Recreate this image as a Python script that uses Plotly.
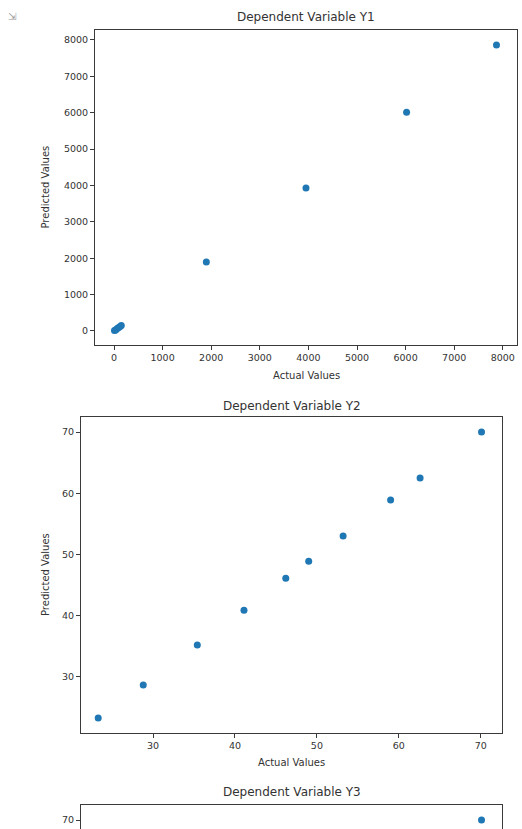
import plotly.graph_objects as go

# ---- data ----
y1_actual = [10, 35, 60, 90, 120, 150, 1900, 3950, 6020, 7870]
y1_pred = [12, 30, 62, 88, 118, 148, 1895, 3930, 6010, 7855]

y2_actual = [23.3, 28.8, 35.4, 41.1, 46.2, 49.0, 53.2, 59.0, 62.6, 70.1]
y2_pred = [23.3, 28.7, 35.2, 40.9, 46.1, 48.9, 53.0, 58.9, 62.5, 70.0]

y3_actual = [70.1]
y3_pred = [70.0]

titles = ["Dependent Variable Y1", "Dependent Variable Y2", "Dependent Variable Y3"]
x_label = "Actual Values"
y_label = "Predicted Values"

W, H = 522, 829
BLUE = "#1f77b4"
FONT = "DejaVu Sans"
AX = "#3a3a3a"


def px(x):
    return x / W


def py(y):
    return 1 - y / H


fig = go.Figure()
mk = dict(color=BLUE, size=7)
fig.add_trace(go.Scatter(x=y1_actual, y=y1_pred, mode="markers", marker=mk, xaxis="x", yaxis="y"))
fig.add_trace(go.Scatter(x=y2_actual, y=y2_pred, mode="markers", marker=mk, xaxis="x2", yaxis="y2"))
fig.add_trace(go.Scatter(x=y3_actual, y=y3_pred, mode="markers", marker=mk, xaxis="x3", yaxis="y3"))

common = dict(showgrid=False, zeroline=False, showline=True, linecolor=AX, linewidth=1,
              mirror=True, ticks="outside", ticklen=4, tickcolor=AX,
              tickfont=dict(family=FONT, size=9.5, color="#333"))

fig.update_layout(
    width=W, height=H, margin=dict(l=0, r=0, t=0, b=0),
    paper_bgcolor="white", plot_bgcolor="white", showlegend=False,
    xaxis=dict(domain=[px(95), px(517)], range=[-391, 8292], tickvals=list(range(0, 8001, 1000)),
               anchor="y", **common),
    yaxis=dict(domain=[py(345), py(30)], range=[-385, 8270], tickvals=list(range(0, 8001, 1000)),
               anchor="x", **common),
    xaxis2=dict(domain=[px(81), px(502)], range=[21.2, 72.6], tickvals=[30, 40, 50, 60, 70],
                anchor="y2", **common),
    yaxis2=dict(domain=[py(733), py(417)], range=[20.85, 72.45], tickvals=[30, 40, 50, 60, 70],
                anchor="x2", **common),
    xaxis3=dict(domain=[px(81), px(502)], range=[21.2, 72.6], anchor="y3", side="top",
                showgrid=False, zeroline=False, showline=True, linecolor=AX, linewidth=1,
                mirror=False, ticks="", showticklabels=False),
    yaxis3=dict(domain=[0, py(805)], range=[68.53, 72.45], tickvals=[70], anchor="x3", **common),
)

ann = []
title_pos = [(306, 17), (291.5, 406), (291.5, 792)]
for t, (x, y) in zip(titles, title_pos):
    ann.append(dict(text=t, x=px(x), y=py(y), xref="paper", yref="paper", showarrow=False,
                    xanchor="center", yanchor="middle", font=dict(family=FONT, size=12, color="#333")))
for x, y in [(306, 375), (291.5, 762)]:
    ann.append(dict(text=x_label, x=px(x), y=py(y), xref="paper", yref="paper", showarrow=False,
                    xanchor="center", yanchor="middle", font=dict(family=FONT, size=10, color="#333")))
for x, y in [(45, 187.5), (45, 575)]:
    ann.append(dict(text=y_label, x=px(x), y=py(y), xref="paper", yref="paper", showarrow=False,
                    textangle=-90, xanchor="center", yanchor="middle",
                    font=dict(family=FONT, size=10, color="#333")))
ann.append(dict(text="⇲", x=px(12), y=py(16), xref="paper", yref="paper", showarrow=False,
                xanchor="center", yanchor="middle", font=dict(family=FONT, size=10, color="#999")))
fig.update_layout(annotations=ann)

fig.write_html("out.html")
